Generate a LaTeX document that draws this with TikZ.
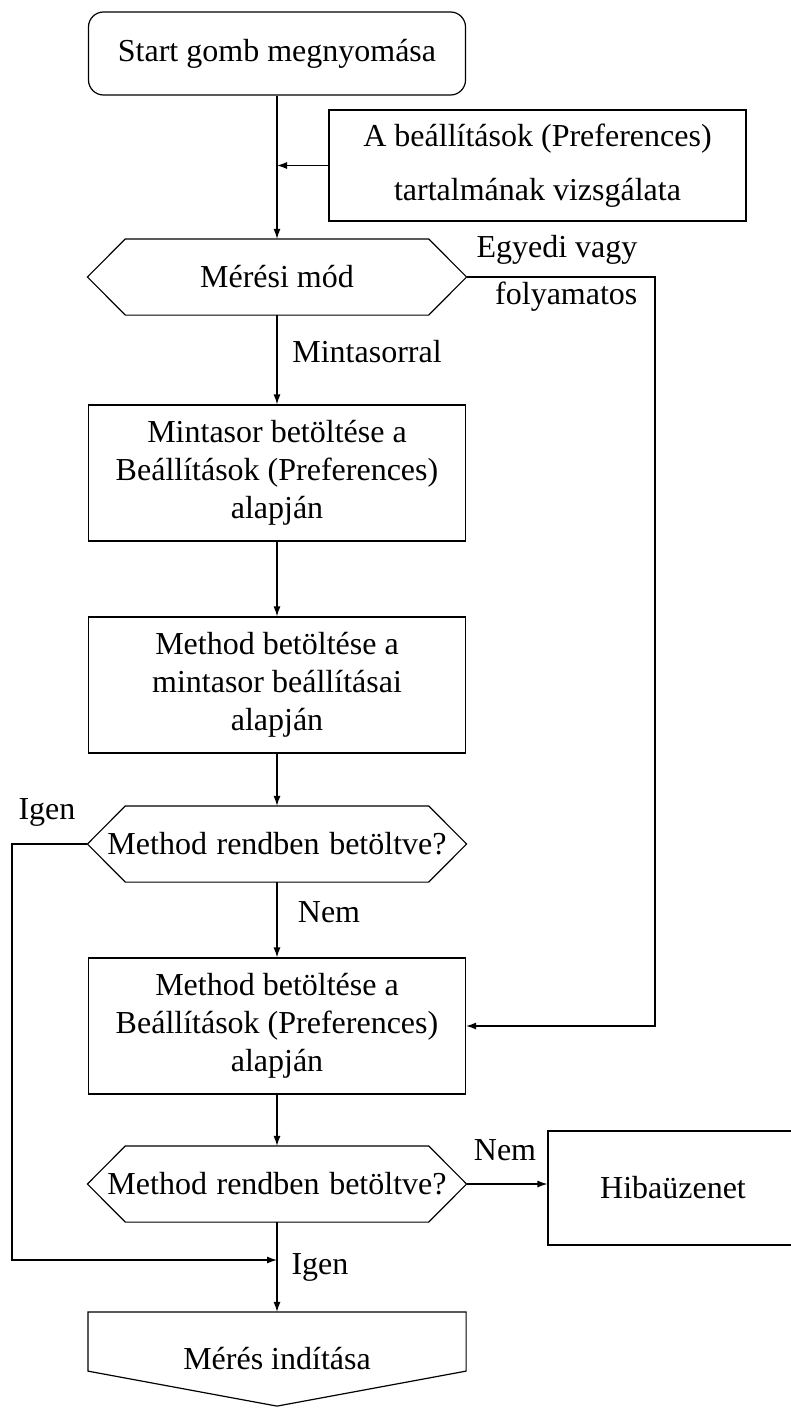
\documentclass[tikz,border=0pt]{standalone}
\usepackage{fontspec}
\setmainfont{Liberation Serif}
\usetikzlibrary{arrows.meta}
\tikzset{
  every node/.style={font=\fontsize{16}{19}\selectfont},
  doboz/.style={draw, minimum width=188.5pt, minimum height=68pt, align=center},
  hatszog/.style={minimum width=189pt, minimum height=37.5pt, inner sep=0pt},
  felirat/.style={inner sep=0pt},
  nyil/.style={-{Latex[length=5pt,width=3.5pt]}},
}
% hatszog alaku keret a csomopont kore
\newcommand{\hatszogkeret}[1]{%
  \draw (#1.west) -- ([xshift=19pt]#1.north west) -- ([xshift=-19pt]#1.north east)
    -- (#1.east) -- ([xshift=-19pt]#1.south east) -- ([xshift=19pt]#1.south west) -- cycle;}
\begin{document}
\begin{tikzpicture}[x=0.5pt,y=-0.5pt,line width=0.6pt]
  \useasboundingbox (0,0) rectangle (791,1408);
  % csomopontok
  \node[draw, rounded corners=7.5pt, minimum width=188.5pt, minimum height=41.5pt] (start) at (277,53.5) {Start gomb megnyomása};
  \node[doboz, minimum width=208.5pt, minimum height=55.5pt, font=\fontsize{16}{27}\selectfont] (pref) at (537.5,165.5) {A beállítások (Preferences)\\tartalmának vizsgálata};
  \node[hatszog] (mod) at (277,277) {Mérési mód};
  \node[doboz] (minta) at (277,473) {Mintasor betöltése a\\Beállítások (Preferences)\\alapján};
  \node[doboz] (meth1) at (277,685) {Method betöltése a\\mintasor beállításai\\alapján};
  \node[hatszog] (ell1) at (277,844) {Method\hspace{.3em}rendben\hspace{.3em}betöltve?};
  \node[doboz] (meth2) at (277,1026) {Method betöltése a\\Beállítások (Preferences)\\alapján};
  \node[hatszog] (ell2) at (277,1184) {Method\hspace{.3em}rendben\hspace{.3em}betöltve?};
  \node[draw, minimum width=125pt, minimum height=57pt] (hiba) at (673,1188) {Hibaüzenet};
  \node[minimum width=188.5pt, minimum height=46.5pt, inner sep=0pt] (meres) at (277,1359) {Mérés indítása};
  \hatszogkeret{mod}
  \hatszogkeret{ell1}
  \hatszogkeret{ell2}
  \draw (meres.north west) -- (meres.north east) -- ([yshift=17.5pt]meres.south east)
    -- (meres.south) -- ([yshift=17.5pt]meres.south west) -- cycle;
  % segedpontok
  \coordinate (jobb) at (655,277);
  \coordinate (bal) at (12,844);
  \coordinate (becs) at (277,1260);
  % nyilak
  \draw[nyil] (start) -- (mod);
  \draw[nyil] (pref.west) -- (pref.west -| start.south);
  \draw[nyil] (mod.east) -- (jobb) |- (meth2.east);
  \draw[nyil] (mod) -- (minta);
  \draw[nyil] (minta) -- (meth1);
  \draw[nyil] (meth1) -- (ell1);
  \draw[nyil] (ell1) -- (meth2);
  \draw[nyil] (meth2) -- (ell2);
  \draw[nyil] (ell2) -- (meres);
  \draw[nyil] (ell1.west) -- (bal) |- (becs);
  \draw[nyil] (ell2.east) -- (ell2.east -| hiba.west);
  % feliratok
  \node[felirat, anchor=east] (egyedi) at (638,250) {Egyedi vagy};
  \node[felirat, anchor=east] (folyam) at (638,297) {folyamatos};
  \node[felirat] (lminta) at (367,352) {Mintasorral};
  \node[felirat] (ligen1) at (47,812) {Igen};
  \node[felirat] (lnem1) at (329,912) {Nem};
  \node[felirat] (lnem2) at (505,1150) {Nem};
  \node[felirat] (ligen2) at (320,1267) {Igen};
\end{tikzpicture}
\end{document}
